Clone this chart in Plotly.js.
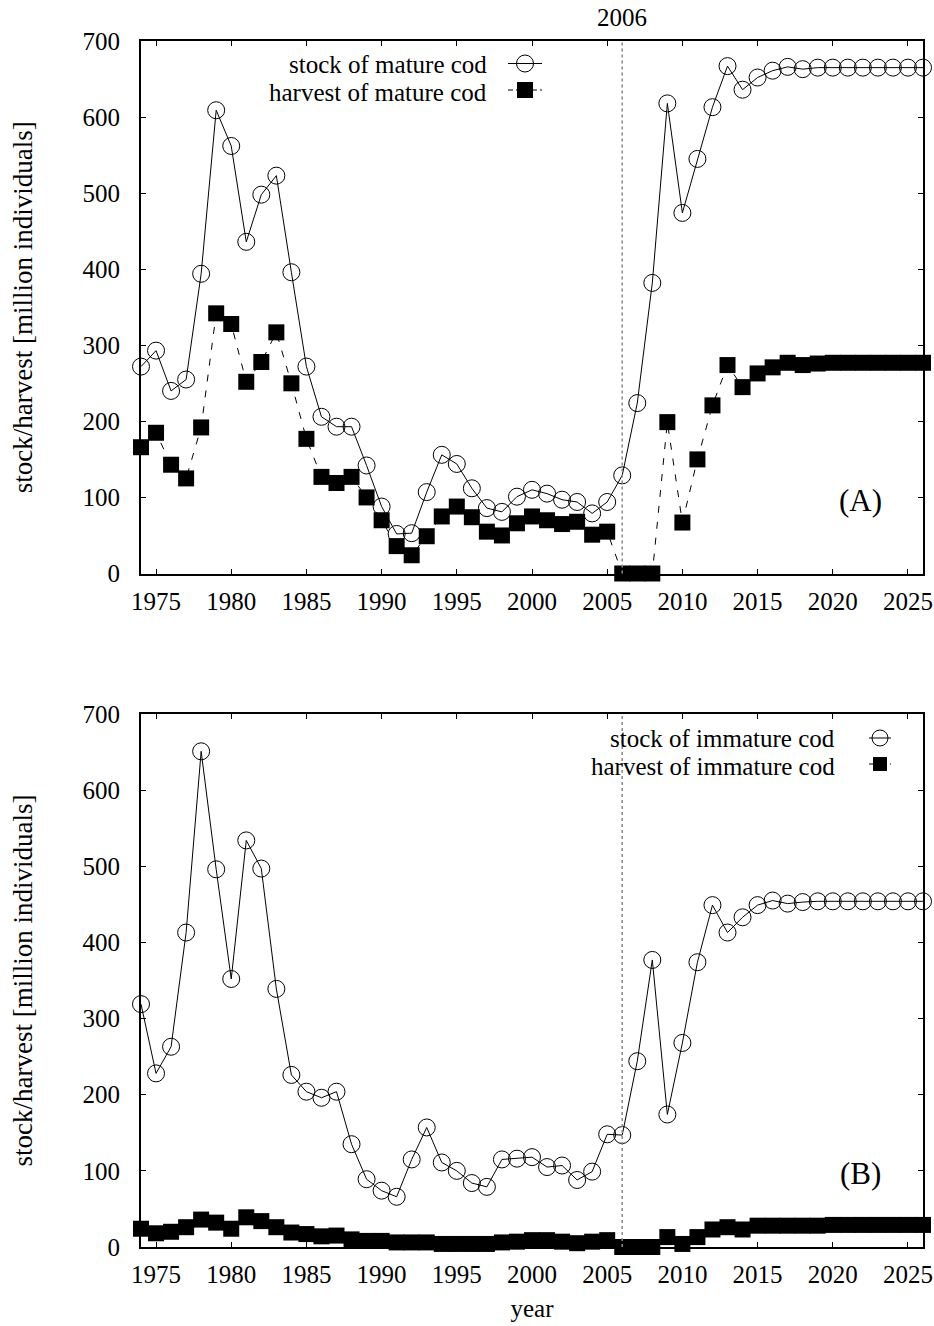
<!DOCTYPE html>
<html>
<head>
<meta charset="utf-8">
<script src="https://cdn.plot.ly/plotly-3.0.1.min.js"></script>
<style>html,body{margin:0;padding:0;background:#fff;}#chart{width:934px;height:1326px;}</style>
</head>
<body>
<div id="chart"></div>
<script>
const years = [1974,1975,1976,1977,1978,1979,1980,1981,1982,1983,
  1984,1985,1986,1987,1988,1989,1990,1991,1992,1993,
  1994,1995,1996,1997,1998,1999,2000,2001,2002,2003,
  2004,2005,2006,2007,2008,2009,2010,2011,2012,2013,
  2014,2015,2016,2017,2018,2019,2020,2021,2022,2023,
  2024,2025,2026];

const stockMature = [272,293,240,255,394,609,562,436,498,523,
  396,272,206,193,193,142,88,52,53,107,
  156,144,112,86,81,101,110,105,97,94,
  79,94,129,224,382,618,474,545,613,667,
  636,652,661,666,663,665,665,665,665,665,
  665,665,665];

const harvestMature = [166,185,143,125,192,342,328,252,278,317,
  250,177,127,119,127,100,70,36,24,49,
  75,88,74,55,50,66,75,70,65,68,
  51,55,0,0,0,199,67,150,221,274,
  245,263,271,277,274,276,277,277,277,277,
  277,277,277];

const stockImmature = [319,228,263,413,651,496,352,534,497,339,
  226,204,196,204,135,89,74,66,115,157,
  111,100,84,79,115,116,118,105,107,88,
  99,148,147,244,377,174,268,374,449,413,
  433,449,455,451,453,454,454,454,454,454,
  454,454,454];

const harvestImmature = [24,18,20,26,36,32,24,39,34,26,
  19,17,14,15,10,8,8,6,6,6,
  4,4,4,4,6,7,9,9,7,5,
  7,9,0,0,0,13,4,13,23,26,
  23,28,28,28,28,28,29,29,29,29,
  29,29,29];

const yTickVals = [0,100,200,300,400,500,600,700];
const xTickVals = [1975,1980,1985,1990,1995,2000,2005,2010,2015,2020,2025];
const markYear = 2006;
const legendA = ["stock of mature cod", "harvest of mature cod"];
const legendB = ["stock of immature cod", "harvest of immature cod"];

const FONT = "Liberation Serif, Times New Roman, serif";
const W = 934, H = 1326;
const L = 141, R = 923, T = 41, B = 1247;
const px = x => (x - L) / (R - L);
const py = y => (B - y) / (B - T);

function stockTrace(y, xa, ya) {
  return {x: years, y: y, xaxis: xa, yaxis: ya, type: 'scatter', mode: 'lines+markers',
    line: {color: '#000', width: 1}, cliponaxis: false,
    marker: {symbol: 'circle-open', size: 17, color: '#000', line: {width: 1, color: '#000'}},
    showlegend: false, hoverinfo: 'x+y'};
}
function harvestTrace(y, xa, ya) {
  return {x: years, y: y, xaxis: xa, yaxis: ya, type: 'scatter', mode: 'lines+markers',
    line: {color: '#000', width: 1, dash: '7px,9px'}, cliponaxis: false,
    marker: {symbol: 'square', size: 16, color: '#000', line: {width: 0}},
    showlegend: false, hoverinfo: 'x+y'};
}

const data = [
  stockTrace(stockMature, 'x', 'y'),
  harvestTrace(harvestMature, 'x', 'y'),
  stockTrace(stockImmature, 'x2', 'y2'),
  harvestTrace(harvestImmature, 'x2', 'y2')
];

const axisCommon = {
  showgrid: false, zeroline: false, showline: true, linecolor: '#000', linewidth: 2,
  mirror: 'ticks', ticks: 'inside', ticklen: 5, tickwidth: 1, tickcolor: '#000',
  ticklabeloverflow: 'allow',
  tickfont: {family: FONT, size: 25, color: '#000'}
};
const xAxisCommon = Object.assign({}, axisCommon, {range: [1974, 2026], tickvals: xTickVals, ticklabelstandoff: 4});
const yAxisCommon = Object.assign({}, axisCommon, {range: [0, 700], tickvals: yTickVals, ticklabelstandoff: 14});
const yTitle = {text: 'stock/harvest [million individuals]', font: {family: FONT, size: 27, color: '#000'}, standoff: 42};

const splitA = py(573.5), splitB = py(714);

const shapes = [
  {type: 'line', xref: 'x', yref: 'y domain', x0: markYear, x1: markYear, y0: 0, y1: 1,
    line: {color: '#8a8a8a', width: 1.5, dash: 'dot'}},
  {type: 'line', xref: 'x2', yref: 'y2 domain', x0: markYear, x1: markYear, y0: 0, y1: 1,
    line: {color: '#8a8a8a', width: 1.5, dash: 'dot'}},
  // legend samples panel A
  {type: 'line', xref: 'paper', yref: 'paper', x0: px(508), x1: px(542), y0: py(63.5), y1: py(63.5), line: {color: '#000', width: 1}},
  {type: 'circle', xref: 'paper', yref: 'paper', x0: px(516.5), x1: px(533.5), y0: py(55), y1: py(72), line: {color: '#000', width: 1}},
  {type: 'line', xref: 'paper', yref: 'paper', x0: px(508), x1: px(542), y0: py(90), y1: py(90), line: {color: '#000', width: 1, dash: '5px,3px'}},
  {type: 'rect', xref: 'paper', yref: 'paper', x0: px(517), x1: px(533), y0: py(82), y1: py(98), fillcolor: '#000', line: {width: 0}},
  // legend samples panel B
  {type: 'line', xref: 'paper', yref: 'paper', x0: px(869), x1: px(891), y0: py(738), y1: py(738), line: {color: '#000', width: 1}},
  {type: 'circle', xref: 'paper', yref: 'paper', x0: px(872), x1: px(888), y0: py(730), y1: py(746), line: {color: '#000', width: 1}},
  {type: 'line', xref: 'paper', yref: 'paper', x0: px(869), x1: px(891), y0: py(764), y1: py(764), line: {color: '#000', width: 1, dash: '4px,3px'}},
  {type: 'rect', xref: 'paper', yref: 'paper', x0: px(873), x1: px(887), y0: py(757), y1: py(771), fillcolor: '#000', line: {width: 0}}
];

const txt = (text, x, y, xanchor, size) => ({text: text, xref: 'paper', yref: 'paper', x: px(x), y: py(y),
  xanchor: xanchor, yanchor: 'middle', showarrow: false, font: {family: FONT, size: size, color: '#000'}});

const annotations = [
  txt(legendA[0], 489, 64.5, 'right', 25),
  txt(legendA[1], 489, 92.5, 'right', 25),
  txt(legendB[0], 837, 738.5, 'right', 25),
  txt(legendB[1], 837, 766.5, 'right', 25),
  txt('(A)', 860, 500, 'center', 31),
  txt('(B)', 860, 1173, 'center', 31),
  {text: String(markYear), xref: 'x', yref: 'y domain', x: markYear, y: 1, xanchor: 'center', yanchor: 'bottom',
    yshift: 8, showarrow: false, font: {family: FONT, size: 25, color: '#000'}}
];

const layout = {
  width: W, height: H,
  margin: {l: L, r: W - R, t: T, b: H - B},
  paper_bgcolor: '#fff', plot_bgcolor: '#fff',
  showlegend: false,
  xaxis: Object.assign({}, xAxisCommon, {domain: [0, 1], anchor: 'y'}),
  yaxis: Object.assign({}, yAxisCommon, {domain: [splitA, 1], anchor: 'x', title: yTitle}),
  xaxis2: Object.assign({}, xAxisCommon, {domain: [0, 1], anchor: 'y2',
    title: {text: 'year', font: {family: FONT, size: 25, color: '#000'}, standoff: 12}}),
  yaxis2: Object.assign({}, yAxisCommon, {domain: [0, splitB], anchor: 'x2', title: yTitle}),
  shapes: shapes,
  annotations: annotations
};

Plotly.newPlot('chart', data, layout, {displayModeBar: false, staticPlot: true});
</script>
</body>
</html>
